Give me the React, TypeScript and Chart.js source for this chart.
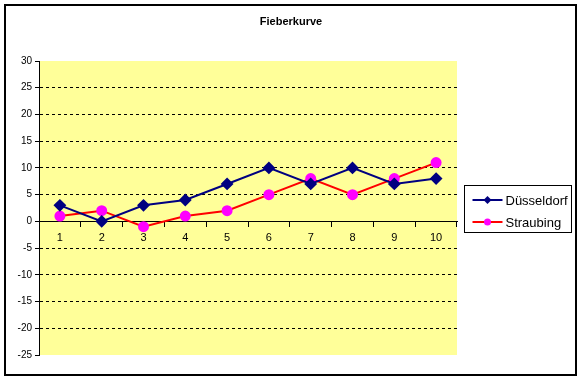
import { useEffect, useRef } from "react";
import { Chart, registerables } from "chart.js";

Chart.register(...registerables);

const categories = ["1", "2", "3", "4", "5", "6", "7", "8", "9", "10"];
const duesseldorf = [3, 0, 3, 4, 7, 10, 7, 10, 7, 8];
const straubing = [1, 2, -1, 1, 2, 5, 8, 5, 8, 11];
const seriesNames = ["Düsseldorf", "Straubing"];
const chartTitle = "Fieberkurve";
const yMin = -25;
const yMax = 30;
const yStep = 5;

const FONT = "'Liberation Sans', Arial, sans-serif";

const framePlugin = {
  id: "frame",
  beforeDraw(chart: any) {
    const { ctx, chartArea, width, height } = chart;
    ctx.save();
    ctx.fillStyle = "#ffffff";
    ctx.fillRect(0, 0, width, height);
    ctx.fillStyle = "#FFFF99";
    ctx.fillRect(chartArea.left, chartArea.top, chartArea.right - chartArea.left, chartArea.bottom - chartArea.top);
    ctx.restore();
  },
  afterDraw(chart: any) {
    const { ctx } = chart;
    ctx.save();
    ctx.strokeStyle = "#000000";
    ctx.lineWidth = 2;
    ctx.strokeRect(5, 5, 571, 370);
    // title
    ctx.fillStyle = "#000000";
    ctx.font = `bold 11px ${FONT}`;
    ctx.textAlign = "center";
    ctx.textBaseline = "middle";
    ctx.fillText(chartTitle, 291, 22);
    // legend
    const bx = 464.5, by = 185.5, bw = 107, bh = 47;
    ctx.lineWidth = 1;
    ctx.strokeRect(bx, by, bw, bh);
    chart.data.datasets.forEach((ds: any, i: number) => {
      const y = by + 14.5 + i * 22;
      ctx.strokeStyle = ds.borderColor;
      ctx.lineWidth = 2;
      ctx.beginPath();
      ctx.moveTo(bx + 8, y);
      ctx.lineTo(bx + 38, y);
      ctx.stroke();
      ctx.fillStyle = ds.pointBackgroundColor;
      ctx.beginPath();
      const cx = bx + 23;
      if (ds.pointStyle === "rectRot") {
        const r = 4;
        ctx.moveTo(cx - r, y);
        ctx.lineTo(cx, y - r);
        ctx.lineTo(cx + r, y);
        ctx.lineTo(cx, y + r);
        ctx.closePath();
      } else {
        ctx.arc(cx, y, 3.5, 0, Math.PI * 2);
      }
      ctx.fill();
      ctx.fillStyle = "#000000";
      ctx.font = `13px ${FONT}`;
      ctx.textAlign = "left";
      ctx.textBaseline = "middle";
      ctx.fillText(ds.label, bx + 41, y + 1);
    });
    ctx.restore();
  },
};

export default function App() {
  const ref = useRef<HTMLCanvasElement | null>(null);
  useEffect(() => {
    if (!ref.current) return;
    const chart = new Chart(ref.current, {
      type: "line",
      data: {
        labels: categories,
        datasets: [
          {
            label: seriesNames[0],
            data: duesseldorf,
            borderColor: "#000080",
            backgroundColor: "#000080",
            pointBackgroundColor: "#000080",
            pointBorderColor: "#000080",
            pointStyle: "rectRot",
            pointRadius: 5,
            borderWidth: 2,
            tension: 0,
          },
          {
            label: seriesNames[1],
            data: straubing,
            borderColor: "#FF0000",
            backgroundColor: "#FF00FF",
            pointBackgroundColor: "#FF00FF",
            pointBorderColor: "#FF00FF",
            pointStyle: "circle",
            pointRadius: 4.5,
            borderWidth: 2,
            tension: 0,
          },
        ],
      },
      options: {
        responsive: false,
        animation: false,
        layout: { padding: { top: 61, right: 125, bottom: 26, left: 0 } },
        plugins: {
          legend: { display: false },
          title: { display: false },
          tooltip: { enabled: false },
        },
        scales: {
          x: {
            type: "category",
            position: { y: 0 } as any,
            offset: true,
            grid: {
              offset: true,
              drawOnChartArea: false,
              drawTicks: true,
              tickLength: 5,
              tickColor: "#000000",
              color: "#000000",
            },
            border: { display: true, color: "#000000", width: 1 },
            ticks: {
              color: "#000000",
              font: { family: FONT, size: 11 },
              padding: 5,
              maxRotation: 0,
              autoSkip: false,
            },
          },
          y: {
            type: "linear",
            min: yMin,
            max: yMax,
            afterFit(scale: any) {
              scale.width = 39;
            },
            ticks: {
              stepSize: yStep,
              color: "#000000",
              font: { family: FONT, size: 10 },
              padding: 3,
            },
            grid: {
              color: (c: any) => {
                const v = c.tick ? c.tick.value : null;
                return v === 0 || v === yMax || v === yMin ? "rgba(0,0,0,0)" : "#000000";
              },
              tickColor: "#000000",
              tickLength: 4,
              tickBorderDash: [],
              lineWidth: 1,
            } as any,
            border: { display: true, color: "#000000", width: 1, dash: [3, 3] },
          },
        },
      },
      plugins: [framePlugin],
    });
    return () => chart.destroy();
  }, []);
  return (
    <div style={{ position: "fixed", left: 0, top: 0, width: 582, height: 381 }}>
      <canvas ref={ref} width={582} height={381} style={{ width: 582, height: 381, display: "block" }} />
    </div>
  );
}
